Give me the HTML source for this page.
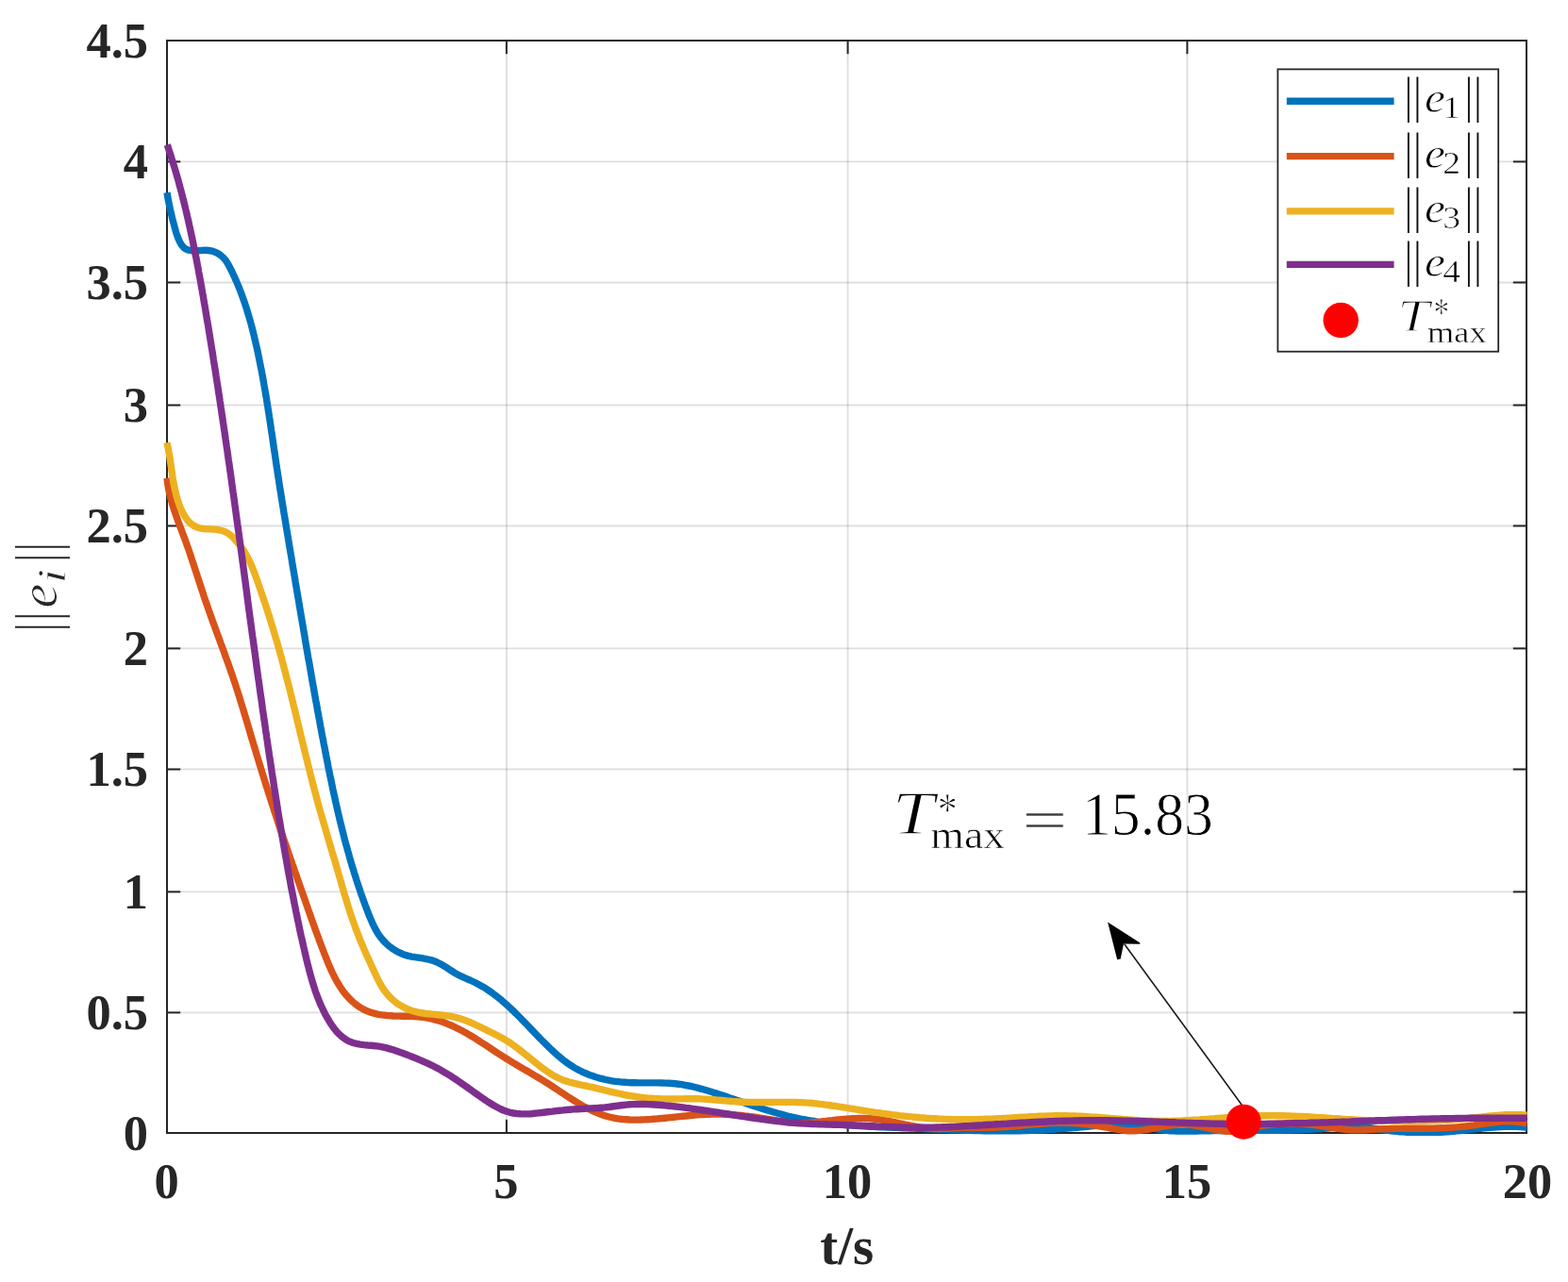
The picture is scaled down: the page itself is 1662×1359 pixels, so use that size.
<!DOCTYPE html>
<html lang="en"><head><meta charset="utf-8"><title>Tracking error norms</title>
<style>
html,body{margin:0;padding:0;background:#fff;}
body{width:1662px;height:1359px;overflow:hidden;}
svg{display:block;}
.tk{font-family:"Liberation Serif","DejaVu Serif",serif;font-weight:bold;font-size:52.5px;fill:#262626;}
.lb{font-family:"Liberation Serif","DejaVu Serif",serif;font-weight:bold;font-size:57px;fill:#262626;}
.mi{font-family:"Liberation Serif","DejaVu Serif",serif;font-style:italic;}
.mr{font-family:"Liberation Serif","DejaVu Serif",serif;}
</style></head><body>
<svg width="1662" height="1359" viewBox="0 0 1662 1359">
<rect x="0" y="0" width="1662" height="1359" fill="#ffffff"/>
<defs><clipPath id="ax"><rect x="170" y="40" width="1449.2" height="1164"/></clipPath></defs>
<g stroke="#262626" stroke-opacity="0.15" stroke-width="1.85" fill="none">
<line x1="536.9" y1="43.0" x2="536.9" y2="1201.0"/>
<line x1="898.6" y1="43.0" x2="898.6" y2="1201.0"/>
<line x1="1258.4" y1="43.0" x2="1258.4" y2="1201.0"/>
<line x1="177.0" y1="1073.40" x2="1618.0" y2="1073.40"/>
<line x1="177.0" y1="945.40" x2="1618.0" y2="945.40"/>
<line x1="177.0" y1="815.50" x2="1618.0" y2="815.50"/>
<line x1="177.0" y1="687.40" x2="1618.0" y2="687.40"/>
<line x1="177.0" y1="557.45" x2="1618.0" y2="557.45"/>
<line x1="177.0" y1="429.50" x2="1618.0" y2="429.50"/>
<line x1="177.0" y1="299.45" x2="1618.0" y2="299.45"/>
<line x1="177.0" y1="171.40" x2="1618.0" y2="171.40"/>
</g>
<g stroke="#262626" stroke-width="2" fill="none">
<rect x="177.0" y="43.0" width="1441.0" height="1158.0"/>
<line x1="536.9" y1="1201.0" x2="536.9" y2="1186.8"/>
<line x1="536.9" y1="43.0" x2="536.9" y2="57.2"/>
<line x1="898.6" y1="1201.0" x2="898.6" y2="1186.8"/>
<line x1="898.6" y1="43.0" x2="898.6" y2="57.2"/>
<line x1="1258.4" y1="1201.0" x2="1258.4" y2="1186.8"/>
<line x1="1258.4" y1="43.0" x2="1258.4" y2="57.2"/>
<line x1="177.0" y1="1073.40" x2="191.2" y2="1073.40"/>
<line x1="1618.0" y1="1073.40" x2="1603.8" y2="1073.40"/>
<line x1="177.0" y1="945.40" x2="191.2" y2="945.40"/>
<line x1="1618.0" y1="945.40" x2="1603.8" y2="945.40"/>
<line x1="177.0" y1="815.50" x2="191.2" y2="815.50"/>
<line x1="1618.0" y1="815.50" x2="1603.8" y2="815.50"/>
<line x1="177.0" y1="687.40" x2="191.2" y2="687.40"/>
<line x1="1618.0" y1="687.40" x2="1603.8" y2="687.40"/>
<line x1="177.0" y1="557.45" x2="191.2" y2="557.45"/>
<line x1="1618.0" y1="557.45" x2="1603.8" y2="557.45"/>
<line x1="177.0" y1="429.50" x2="191.2" y2="429.50"/>
<line x1="1618.0" y1="429.50" x2="1603.8" y2="429.50"/>
<line x1="177.0" y1="299.45" x2="191.2" y2="299.45"/>
<line x1="1618.0" y1="299.45" x2="1603.8" y2="299.45"/>
<line x1="177.0" y1="171.40" x2="191.2" y2="171.40"/>
<line x1="1618.0" y1="171.40" x2="1603.8" y2="171.40"/>
</g>
<g fill="none" stroke-width="7.4" stroke-linejoin="round" stroke-linecap="butt" clip-path="url(#ax)">
<path stroke="#0072BD" d="M177.0,204.2 L177.7,208.1 L178.3,211.8 L179.0,215.3 L179.7,218.6 L180.4,221.9 L181.1,225.0 L181.9,228.2 L182.6,231.4 L183.5,234.7 L184.4,238.1 L185.4,241.7 L186.4,245.5 L187.6,249.3 L189.0,253.0 L190.6,256.5 L192.4,259.6 L194.6,262.2 L197.1,264.1 L200.1,265.2 L203.3,265.7 L206.8,265.8 L210.4,265.7 L214.1,265.4 L217.7,265.3 L221.3,265.5 L224.7,266.1 L227.9,267.2 L231.0,268.6 L233.7,270.5 L236.3,272.7 L238.6,275.2 L240.6,278.1 L242.4,281.2 L244.1,284.4 L245.8,287.7 L247.3,291.0 L248.8,294.3 L250.3,297.6 L251.7,300.9 L253.1,304.2 L254.4,307.5 L255.7,310.9 L256.9,314.2 L258.1,317.6 L259.3,320.9 L260.4,324.3 L261.5,327.7 L262.5,331.1 L263.5,334.4 L264.5,337.8 L265.5,341.2 L266.4,344.6 L267.3,348.0 L268.2,351.5 L269.0,354.9 L269.8,358.3 L270.6,361.7 L271.4,365.2 L272.2,368.6 L273.0,372.1 L273.7,375.5 L274.4,379.0 L275.1,382.4 L275.8,385.9 L276.5,389.4 L277.2,392.8 L277.8,396.3 L278.5,399.8 L279.1,403.3 L279.7,406.8 L280.3,410.3 L280.9,413.7 L281.5,417.2 L282.1,420.7 L282.7,424.2 L283.2,427.7 L283.8,431.2 L284.3,434.7 L284.9,438.3 L285.4,441.8 L286.0,445.3 L286.5,448.8 L287.0,452.3 L287.5,455.8 L288.1,459.3 L288.6,462.8 L289.1,466.3 L289.6,469.9 L290.1,473.4 L290.6,476.9 L291.2,480.4 L291.7,483.9 L292.2,487.4 L292.7,490.9 L293.2,494.4 L293.8,498.0 L294.3,501.5 L294.8,505.0 L295.4,508.5 L295.9,512.0 L296.4,515.5 L297.0,519.0 L297.6,522.5 L298.1,526.0 L298.7,529.5 L299.2,533.0 L299.8,536.5 L300.4,540.0 L300.9,543.4 L301.5,546.9 L302.1,550.4 L302.7,553.9 L303.2,557.4 L303.8,560.9 L304.4,564.4 L305.0,567.9 L305.6,571.4 L306.1,574.9 L306.7,578.4 L307.3,581.9 L307.9,585.3 L308.5,588.8 L309.1,592.3 L309.6,595.8 L310.2,599.3 L310.8,602.8 L311.4,606.3 L312.0,609.8 L312.6,613.3 L313.1,616.8 L313.7,620.3 L314.3,623.8 L314.9,627.3 L315.5,630.8 L316.1,634.3 L316.7,637.8 L317.2,641.2 L317.8,644.7 L318.4,648.2 L319.0,651.7 L319.6,655.2 L320.2,658.7 L320.8,662.2 L321.4,665.7 L322.0,669.2 L322.6,672.7 L323.2,676.2 L323.7,679.7 L324.3,683.2 L324.9,686.7 L325.5,690.2 L326.1,693.7 L326.7,697.2 L327.4,700.7 L328.0,704.1 L328.6,707.6 L329.2,711.1 L329.8,714.6 L330.4,718.1 L331.0,721.6 L331.6,725.1 L332.3,728.6 L332.9,732.1 L333.5,735.6 L334.1,739.1 L334.7,742.5 L335.4,746.0 L336.0,749.5 L336.6,753.0 L337.3,756.5 L337.9,760.0 L338.6,763.5 L339.2,767.0 L339.8,770.4 L340.5,773.9 L341.1,777.4 L341.8,780.9 L342.5,784.4 L343.1,787.9 L343.8,791.3 L344.5,794.8 L345.1,798.3 L345.8,801.8 L346.5,805.2 L347.2,808.7 L347.8,812.2 L348.5,815.7 L349.2,819.1 L349.9,822.6 L350.7,826.1 L351.4,829.5 L352.1,833.0 L352.8,836.5 L353.6,839.9 L354.3,843.4 L355.1,846.9 L355.8,850.3 L356.6,853.8 L357.4,857.2 L358.2,860.7 L359.0,864.1 L359.8,867.6 L360.6,871.0 L361.5,874.4 L362.3,877.9 L363.2,881.3 L364.1,884.7 L364.9,888.2 L365.8,891.6 L366.7,895.0 L367.7,898.4 L368.6,901.8 L369.6,905.2 L370.5,908.7 L371.5,912.1 L372.5,915.5 L373.5,918.9 L374.6,922.2 L375.6,925.6 L376.7,929.0 L377.7,932.4 L378.8,935.8 L380.0,939.2 L381.1,942.5 L382.2,945.9 L383.4,949.2 L384.6,952.6 L385.8,955.9 L387.0,959.3 L388.3,962.6 L389.6,966.0 L390.8,969.3 L392.2,972.6 L393.6,975.9 L395.0,979.1 L396.5,982.3 L398.2,985.4 L399.9,988.4 L401.8,991.4 L403.9,994.2 L406.1,996.9 L408.5,999.4 L411.1,1001.9 L413.9,1004.1 L416.8,1006.2 L419.8,1008.0 L423.0,1009.7 L426.2,1011.2 L429.6,1012.4 L433.0,1013.4 L436.4,1014.1 L439.9,1014.7 L443.4,1015.2 L447.0,1015.7 L450.5,1016.3 L453.9,1017.0 L457.3,1017.8 L460.7,1019.0 L464.0,1020.4 L467.2,1022.1 L470.3,1023.8 L473.3,1025.7 L476.2,1027.6 L479.2,1029.5 L482.1,1031.4 L485.2,1033.1 L488.3,1034.7 L491.5,1036.2 L494.8,1037.6 L498.1,1039.0 L501.3,1040.5 L504.5,1042.0 L507.6,1043.7 L510.7,1045.4 L513.7,1047.2 L516.7,1049.1 L519.6,1051.1 L522.4,1053.1 L525.2,1055.2 L528.0,1057.4 L530.8,1059.6 L533.4,1061.9 L536.1,1064.2 L538.7,1066.6 L541.3,1069.0 L543.9,1071.5 L546.5,1074.0 L549.0,1076.5 L551.5,1079.0 L554.0,1081.6 L556.5,1084.1 L559.0,1086.7 L561.4,1089.3 L563.9,1091.9 L566.4,1094.5 L568.8,1097.0 L571.3,1099.6 L573.8,1102.2 L576.3,1104.7 L578.8,1107.2 L581.3,1109.7 L583.9,1112.1 L586.4,1114.5 L589.0,1116.9 L591.6,1119.2 L594.3,1121.4 L597.0,1123.6 L599.8,1125.7 L602.6,1127.8 L605.5,1129.7 L608.5,1131.6 L611.6,1133.4 L614.8,1135.0 L618.0,1136.6 L621.3,1138.0 L624.7,1139.4 L628.1,1140.6 L631.5,1141.8 L634.9,1142.8 L638.4,1143.7 L641.8,1144.5 L645.2,1145.2 L648.7,1145.8 L652.2,1146.3 L655.6,1146.7 L659.1,1147.1 L662.6,1147.3 L666.1,1147.6 L669.6,1147.7 L673.1,1147.8 L676.7,1147.9 L680.2,1147.9 L683.8,1147.9 L687.3,1147.9 L690.9,1147.9 L694.5,1147.9 L698.1,1147.9 L701.6,1148.0 L705.2,1148.1 L708.8,1148.3 L712.3,1148.5 L715.8,1148.8 L719.3,1149.2 L722.8,1149.7 L726.3,1150.3 L729.8,1151.0 L733.2,1151.7 L736.6,1152.5 L740.0,1153.4 L743.4,1154.3 L746.8,1155.3 L750.2,1156.3 L753.6,1157.3 L757.0,1158.4 L760.4,1159.4 L763.7,1160.5 L767.1,1161.6 L770.5,1162.8 L773.8,1163.9 L777.2,1165.0 L780.6,1166.2 L783.9,1167.3 L787.3,1168.5 L790.7,1169.6 L794.1,1170.8 L797.4,1171.9 L800.8,1173.0 L804.2,1174.1 L807.6,1175.2 L811.0,1176.3 L814.3,1177.3 L817.7,1178.3 L821.1,1179.3 L824.6,1180.3 L828.0,1181.2 L831.4,1182.1 L834.8,1183.0 L838.2,1183.8 L841.7,1184.6 L845.1,1185.4 L848.6,1186.1 L852.1,1186.7 L855.5,1187.4 L859.0,1188.0 L862.5,1188.5 L866.0,1189.1 L869.5,1189.6 L873.0,1190.0 L876.5,1190.5 L880.0,1190.9 L883.5,1191.3 L887.0,1191.6 L890.6,1192.0 L894.1,1192.3 L897.6,1192.6 L901.1,1192.9 L904.7,1193.1 L908.2,1193.4 L911.8,1193.6 L915.3,1193.8 L918.9,1194.0 L922.4,1194.2 L926.0,1194.4 L929.5,1194.5 L933.1,1194.7 L936.6,1194.9 L940.2,1195.0 L943.7,1195.1 L947.3,1195.3 L950.8,1195.4 L954.4,1195.6 L957.9,1195.7 L961.5,1195.8 L965.0,1196.0 L968.6,1196.1 L972.1,1196.3 L975.7,1196.4 L979.2,1196.6 L982.7,1196.7 L986.3,1196.9 L989.8,1197.0 L993.4,1197.1 L996.9,1197.3 L1000.4,1197.4 L1004.0,1197.6 L1007.5,1197.7 L1011.1,1197.8 L1014.6,1197.9 L1018.1,1198.1 L1021.7,1198.2 L1025.2,1198.3 L1028.7,1198.4 L1032.3,1198.5 L1035.8,1198.6 L1039.3,1198.6 L1042.9,1198.7 L1046.4,1198.8 L1049.9,1198.8 L1053.5,1198.8 L1057.0,1198.9 L1060.5,1198.9 L1064.1,1198.9 L1067.6,1198.9 L1071.1,1198.8 L1074.7,1198.8 L1078.2,1198.8 L1081.7,1198.7 L1085.3,1198.6 L1088.8,1198.5 L1092.3,1198.4 L1095.9,1198.3 L1099.4,1198.1 L1103.0,1198.0 L1106.5,1197.8 L1110.0,1197.6 L1113.6,1197.4 L1117.1,1197.2 L1120.7,1196.9 L1124.2,1196.7 L1127.8,1196.4 L1131.3,1196.1 L1134.9,1195.8 L1138.4,1195.5 L1141.9,1195.2 L1145.5,1194.9 L1149.0,1194.5 L1152.6,1194.2 L1156.1,1193.8 L1159.7,1193.5 L1163.2,1193.1 L1166.7,1192.8 L1170.3,1192.4 L1173.8,1192.2 L1177.3,1191.9 L1180.9,1191.7 L1184.4,1191.5 L1187.9,1191.5 L1191.4,1191.5 L1194.9,1191.6 L1198.4,1191.8 L1201.9,1192.1 L1205.4,1192.5 L1208.9,1193.1 L1212.3,1193.8 L1215.8,1194.6 L1219.2,1195.4 L1222.7,1196.2 L1226.2,1196.9 L1229.7,1197.5 L1233.2,1198.0 L1236.7,1198.4 L1240.2,1198.7 L1243.8,1198.9 L1247.3,1199.0 L1250.9,1199.1 L1254.4,1199.1 L1257.9,1199.1 L1261.5,1199.1 L1265.0,1199.1 L1268.6,1199.0 L1272.1,1198.9 L1275.7,1198.8 L1279.2,1198.8 L1282.7,1198.7 L1286.3,1198.6 L1289.8,1198.6 L1293.4,1198.5 L1296.9,1198.5 L1300.5,1198.5 L1304.0,1198.4 L1307.5,1198.4 L1311.1,1198.4 L1314.6,1198.4 L1318.2,1198.4 L1321.7,1198.4 L1325.3,1198.4 L1328.8,1198.3 L1332.3,1198.3 L1335.9,1198.3 L1339.4,1198.3 L1343.0,1198.3 L1346.5,1198.3 L1350.0,1198.2 L1353.6,1198.2 L1357.1,1198.2 L1360.7,1198.1 L1364.2,1198.0 L1367.7,1198.0 L1371.3,1197.9 L1374.8,1197.8 L1378.4,1197.7 L1381.9,1197.6 L1385.5,1197.4 L1389.0,1197.3 L1392.5,1197.1 L1396.1,1196.9 L1399.6,1196.7 L1403.2,1196.4 L1406.7,1196.1 L1410.2,1195.7 L1413.8,1195.3 L1417.3,1194.9 L1420.8,1194.5 L1424.4,1194.1 L1427.9,1193.8 L1431.4,1193.7 L1434.9,1193.7 L1438.4,1193.8 L1441.9,1194.1 L1445.4,1194.5 L1449.0,1195.0 L1452.5,1195.6 L1456.0,1196.2 L1459.5,1196.7 L1463.0,1197.3 L1466.5,1197.8 L1470.0,1198.2 L1473.6,1198.7 L1477.1,1199.0 L1480.6,1199.4 L1484.2,1199.7 L1487.7,1199.9 L1491.2,1200.2 L1494.8,1200.3 L1498.3,1200.5 L1501.8,1200.6 L1505.4,1200.6 L1508.9,1200.7 L1512.5,1200.6 L1516.0,1200.6 L1519.6,1200.5 L1523.1,1200.4 L1526.6,1200.2 L1530.2,1200.0 L1533.7,1199.8 L1537.2,1199.5 L1540.8,1199.2 L1544.3,1198.9 L1547.8,1198.5 L1551.3,1198.2 L1554.9,1197.8 L1558.4,1197.4 L1561.9,1197.0 L1565.4,1196.6 L1569.0,1196.2 L1572.5,1195.9 L1576.0,1195.6 L1579.5,1195.3 L1583.1,1195.0 L1586.6,1194.7 L1590.1,1194.6 L1593.7,1194.4 L1597.2,1194.3 L1600.7,1194.3 L1604.3,1194.3 L1607.8,1194.4 L1611.4,1194.6 L1614.9,1194.9 L1618.5,1195.2"/>
<path stroke="#D95319" d="M177.0,506.7 L177.4,509.8 L177.8,513.0 L178.3,516.1 L178.8,519.2 L179.5,522.2 L180.2,525.3 L180.9,528.3 L181.8,531.3 L182.6,534.3 L183.5,537.3 L184.5,540.3 L185.5,543.2 L186.5,546.2 L187.6,549.1 L188.6,552.0 L189.7,555.0 L190.8,557.9 L191.9,560.8 L193.0,563.8 L194.1,566.7 L195.2,569.6 L196.3,572.6 L197.4,575.5 L198.4,578.5 L199.5,581.4 L200.5,584.4 L201.5,587.3 L202.5,590.3 L203.5,593.3 L204.5,596.2 L205.5,599.2 L206.4,602.2 L207.4,605.1 L208.4,608.1 L209.3,611.1 L210.3,614.1 L211.3,617.0 L212.2,620.0 L213.2,623.0 L214.2,626.0 L215.2,628.9 L216.1,631.9 L217.1,634.9 L218.1,637.8 L219.2,640.8 L220.2,643.7 L221.2,646.7 L222.3,649.6 L223.3,652.6 L224.4,655.5 L225.4,658.5 L226.5,661.4 L227.6,664.3 L228.6,667.3 L229.7,670.2 L230.8,673.2 L231.9,676.1 L233.0,679.0 L234.0,682.0 L235.1,684.9 L236.2,687.8 L237.3,690.8 L238.3,693.7 L239.4,696.7 L240.5,699.6 L241.5,702.5 L242.6,705.5 L243.6,708.4 L244.6,711.4 L245.7,714.3 L246.7,717.3 L247.7,720.3 L248.7,723.2 L249.7,726.2 L250.6,729.2 L251.6,732.2 L252.5,735.1 L253.5,738.1 L254.4,741.1 L255.3,744.1 L256.3,747.1 L257.2,750.1 L258.1,753.1 L259.0,756.1 L259.9,759.1 L260.8,762.1 L261.7,765.1 L262.6,768.1 L263.5,771.1 L264.4,774.1 L265.2,777.1 L266.1,780.1 L267.0,783.1 L267.9,786.1 L268.8,789.1 L269.7,792.1 L270.6,795.0 L271.5,798.0 L272.4,801.0 L273.3,804.0 L274.2,807.0 L275.1,810.0 L276.1,813.0 L277.0,816.0 L277.9,819.0 L278.8,821.9 L279.7,824.9 L280.7,827.9 L281.6,830.9 L282.5,833.9 L283.5,836.9 L284.4,839.8 L285.4,842.8 L286.3,845.8 L287.3,848.8 L288.2,851.7 L289.2,854.7 L290.2,857.7 L291.1,860.7 L292.1,863.6 L293.1,866.6 L294.1,869.6 L295.0,872.5 L296.0,875.5 L297.0,878.5 L298.0,881.5 L299.0,884.4 L300.0,887.4 L301.0,890.3 L302.0,893.3 L303.1,896.3 L304.1,899.2 L305.1,902.2 L306.1,905.2 L307.2,908.1 L308.2,911.1 L309.2,914.0 L310.2,917.0 L311.3,920.0 L312.3,922.9 L313.3,925.9 L314.4,928.8 L315.4,931.8 L316.4,934.7 L317.5,937.7 L318.5,940.6 L319.5,943.6 L320.6,946.5 L321.6,949.5 L322.6,952.4 L323.7,955.3 L324.7,958.3 L325.7,961.2 L326.7,964.2 L327.8,967.1 L328.8,970.0 L329.8,973.0 L330.9,975.9 L331.9,978.9 L333.0,981.8 L334.0,984.7 L335.1,987.7 L336.2,990.6 L337.3,993.5 L338.3,996.5 L339.4,999.4 L340.5,1002.3 L341.7,1005.3 L342.8,1008.2 L343.9,1011.2 L345.1,1014.1 L346.2,1017.0 L347.4,1019.9 L348.6,1022.9 L349.9,1025.8 L351.1,1028.6 L352.5,1031.5 L353.9,1034.3 L355.3,1037.1 L356.8,1039.8 L358.4,1042.5 L360.0,1045.2 L361.7,1047.8 L363.5,1050.4 L365.4,1052.9 L367.4,1055.3 L369.5,1057.6 L371.7,1059.9 L373.9,1062.0 L376.3,1064.0 L378.7,1065.9 L381.3,1067.6 L383.9,1069.2 L386.6,1070.6 L389.5,1071.9 L392.4,1073.0 L395.3,1073.9 L398.3,1074.7 L401.4,1075.3 L404.5,1075.8 L407.6,1076.2 L410.7,1076.6 L413.8,1076.8 L417.0,1077.0 L420.2,1077.1 L423.3,1077.1 L426.5,1077.2 L429.7,1077.3 L432.9,1077.3 L436.1,1077.4 L439.2,1077.6 L442.4,1077.8 L445.5,1078.0 L448.6,1078.4 L451.7,1078.8 L454.8,1079.4 L457.8,1080.0 L460.8,1080.8 L463.8,1081.6 L466.7,1082.5 L469.7,1083.5 L472.6,1084.6 L475.5,1085.8 L478.3,1087.0 L481.2,1088.3 L484.0,1089.7 L486.8,1091.1 L489.6,1092.5 L492.3,1094.1 L495.1,1095.6 L497.8,1097.2 L500.5,1098.8 L503.1,1100.4 L505.8,1102.1 L508.4,1103.8 L511.0,1105.5 L513.7,1107.2 L516.3,1108.9 L518.9,1110.6 L521.5,1112.4 L524.1,1114.1 L526.7,1115.8 L529.3,1117.5 L531.9,1119.2 L534.6,1120.9 L537.2,1122.5 L539.9,1124.1 L542.6,1125.8 L545.2,1127.4 L547.9,1129.0 L550.6,1130.6 L553.3,1132.2 L556.0,1133.7 L558.7,1135.3 L561.4,1136.9 L564.1,1138.5 L566.8,1140.1 L569.5,1141.7 L572.2,1143.3 L574.8,1144.9 L577.5,1146.6 L580.2,1148.2 L582.8,1149.9 L585.4,1151.6 L588.0,1153.3 L590.6,1155.0 L593.2,1156.8 L595.8,1158.5 L598.4,1160.2 L601.0,1162.0 L603.6,1163.7 L606.3,1165.4 L608.9,1167.0 L611.6,1168.7 L614.3,1170.3 L617.0,1171.9 L619.8,1173.4 L622.6,1174.8 L625.4,1176.2 L628.2,1177.6 L631.1,1178.9 L634.0,1180.1 L636.9,1181.2 L639.8,1182.2 L642.8,1183.2 L645.8,1184.0 L648.8,1184.7 L651.9,1185.3 L654.9,1185.9 L658.0,1186.3 L661.1,1186.6 L664.2,1186.8 L667.4,1187.0 L670.5,1187.1 L673.6,1187.1 L676.8,1187.1 L679.9,1187.0 L683.0,1186.9 L686.2,1186.7 L689.3,1186.6 L692.4,1186.3 L695.5,1186.1 L698.7,1185.8 L701.8,1185.5 L704.9,1185.2 L708.0,1184.9 L711.1,1184.6 L714.2,1184.3 L717.4,1183.9 L720.5,1183.6 L723.6,1183.3 L726.7,1183.0 L729.8,1182.7 L732.9,1182.4 L736.0,1182.1 L739.1,1181.9 L742.3,1181.6 L745.4,1181.5 L748.5,1181.3 L751.6,1181.2 L754.7,1181.1 L757.9,1181.1 L761.0,1181.1 L764.1,1181.1 L767.2,1181.2 L770.3,1181.3 L773.5,1181.5 L776.6,1181.7 L779.7,1182.0 L782.8,1182.2 L786.0,1182.5 L789.1,1182.9 L792.2,1183.2 L795.3,1183.6 L798.4,1184.0 L801.5,1184.4 L804.6,1184.9 L807.8,1185.3 L810.9,1185.8 L814.0,1186.3 L817.0,1186.8 L820.1,1187.3 L823.2,1187.8 L826.3,1188.3 L829.4,1188.8 L832.4,1189.3 L835.5,1189.7 L838.6,1190.1 L841.7,1190.4 L844.7,1190.6 L847.8,1190.6 L850.9,1190.6 L854.0,1190.5 L857.1,1190.3 L860.1,1190.0 L863.2,1189.7 L866.3,1189.4 L869.4,1189.1 L872.6,1188.7 L875.7,1188.4 L878.8,1188.0 L881.9,1187.7 L885.0,1187.3 L888.1,1187.0 L891.3,1186.7 L894.4,1186.4 L897.5,1186.1 L900.6,1185.9 L903.8,1185.7 L906.9,1185.6 L910.0,1185.5 L913.1,1185.4 L916.2,1185.5 L919.3,1185.6 L922.5,1185.7 L925.6,1186.0 L928.7,1186.3 L931.8,1186.7 L934.8,1187.1 L937.9,1187.7 L941.0,1188.2 L944.1,1188.8 L947.2,1189.5 L950.3,1190.1 L953.4,1190.8 L956.4,1191.4 L959.5,1192.1 L962.6,1192.7 L965.7,1193.3 L968.8,1193.9 L971.9,1194.5 L975.0,1195.0 L978.0,1195.4 L981.1,1195.8 L984.2,1196.1 L987.4,1196.4 L990.5,1196.5 L993.6,1196.5 L996.7,1196.5 L999.8,1196.4 L1003.0,1196.2 L1006.1,1196.1 L1009.2,1195.9 L1012.3,1195.7 L1015.5,1195.5 L1018.6,1195.3 L1021.7,1195.2 L1024.9,1195.2 L1028.0,1195.2 L1031.1,1195.2 L1034.2,1195.2 L1037.4,1195.2 L1040.5,1195.3 L1043.6,1195.3 L1046.7,1195.3 L1049.8,1195.3 L1053.0,1195.2 L1056.1,1195.1 L1059.2,1194.9 L1062.3,1194.8 L1065.5,1194.6 L1068.6,1194.3 L1071.7,1194.1 L1074.9,1193.8 L1078.0,1193.5 L1081.1,1193.2 L1084.3,1192.9 L1087.4,1192.6 L1090.5,1192.3 L1093.6,1192.0 L1096.8,1191.7 L1099.9,1191.4 L1103.0,1191.2 L1106.1,1190.9 L1109.3,1190.7 L1112.4,1190.5 L1115.5,1190.4 L1118.6,1190.2 L1121.7,1190.2 L1124.9,1190.1 L1128.0,1190.1 L1131.1,1190.2 L1134.2,1190.3 L1137.3,1190.5 L1140.4,1190.7 L1143.5,1190.9 L1146.6,1191.2 L1149.7,1191.6 L1152.8,1191.9 L1155.9,1192.4 L1159.0,1192.8 L1162.1,1193.3 L1165.1,1193.8 L1168.2,1194.3 L1171.3,1194.9 L1174.4,1195.4 L1177.5,1196.0 L1180.5,1196.6 L1183.6,1197.2 L1186.7,1197.7 L1189.7,1198.1 L1192.8,1198.5 L1195.9,1198.7 L1199.0,1198.8 L1202.1,1198.7 L1205.2,1198.5 L1208.3,1198.2 L1211.4,1197.9 L1214.5,1197.5 L1217.6,1197.0 L1220.7,1196.4 L1223.8,1195.9 L1226.9,1195.3 L1230.0,1194.7 L1233.2,1194.2 L1236.3,1193.6 L1239.4,1193.1 L1242.5,1192.7 L1245.6,1192.4 L1248.7,1192.1 L1251.8,1192.0 L1254.9,1192.0 L1258.0,1192.1 L1261.1,1192.4 L1264.2,1192.8 L1267.3,1193.2 L1270.4,1193.8 L1273.5,1194.4 L1276.6,1195.0 L1279.7,1195.7 L1282.7,1196.4 L1285.8,1197.1 L1288.9,1197.7 L1291.9,1198.3 L1295.0,1198.7 L1298.0,1199.1 L1301.1,1199.3 L1304.2,1199.2 L1307.2,1199.1 L1310.3,1198.8 L1313.3,1198.4 L1316.4,1197.9 L1319.4,1197.3 L1322.5,1196.7 L1325.6,1196.0 L1328.6,1195.3 L1331.7,1194.7 L1334.8,1194.0 L1337.9,1193.4 L1341.0,1192.9 L1344.1,1192.4 L1347.2,1192.0 L1350.3,1191.7 L1353.4,1191.4 L1356.6,1191.2 L1359.7,1191.1 L1362.8,1191.0 L1366.0,1190.9 L1369.1,1190.9 L1372.2,1191.0 L1375.4,1191.1 L1378.5,1191.3 L1381.6,1191.5 L1384.8,1191.8 L1387.9,1192.1 L1391.0,1192.4 L1394.2,1192.8 L1397.3,1193.2 L1400.4,1193.7 L1403.5,1194.1 L1406.6,1194.6 L1409.7,1195.1 L1412.8,1195.6 L1415.9,1196.1 L1419.0,1196.5 L1422.1,1196.9 L1425.2,1197.2 L1428.3,1197.5 L1431.4,1197.7 L1434.5,1197.9 L1437.6,1197.9 L1440.7,1197.9 L1443.8,1197.8 L1447.0,1197.7 L1450.1,1197.6 L1453.2,1197.4 L1456.3,1197.2 L1459.5,1197.0 L1462.6,1196.9 L1465.7,1196.8 L1468.8,1196.7 L1472.0,1196.6 L1475.1,1196.5 L1478.2,1196.4 L1481.4,1196.4 L1484.5,1196.4 L1487.6,1196.3 L1490.7,1196.3 L1493.9,1196.3 L1497.0,1196.3 L1500.1,1196.3 L1503.2,1196.3 L1506.4,1196.2 L1509.5,1196.2 L1512.6,1196.2 L1515.7,1196.1 L1518.9,1196.1 L1522.0,1196.0 L1525.1,1195.9 L1528.2,1195.8 L1531.3,1195.7 L1534.4,1195.5 L1537.6,1195.4 L1540.7,1195.1 L1543.8,1194.9 L1546.9,1194.6 L1550.0,1194.3 L1553.1,1194.0 L1556.2,1193.6 L1559.3,1193.2 L1562.4,1192.8 L1565.5,1192.3 L1568.6,1191.8 L1571.8,1191.4 L1574.9,1190.9 L1578.0,1190.5 L1581.1,1190.0 L1584.2,1189.7 L1587.3,1189.4 L1590.4,1189.1 L1593.5,1188.9 L1596.6,1188.8 L1599.7,1188.8 L1602.8,1188.8 L1606.0,1189.0 L1609.1,1189.3 L1612.2,1189.7 L1615.4,1190.3 L1618.5,1191.0"/>
<path stroke="#EDB120" d="M176.9,469.2 L177.6,472.3 L178.3,475.4 L178.8,478.4 L179.4,481.5 L179.9,484.6 L180.4,487.8 L180.8,490.9 L181.3,494.0 L181.7,497.1 L182.2,500.3 L182.6,503.4 L183.1,506.5 L183.6,509.7 L184.2,512.8 L184.8,515.9 L185.4,519.0 L186.2,522.1 L186.9,525.2 L187.8,528.3 L188.8,531.4 L189.8,534.5 L191.0,537.5 L192.2,540.5 L193.6,543.4 L195.2,546.2 L196.8,548.8 L198.6,551.2 L200.6,553.4 L202.8,555.4 L205.1,557.1 L207.6,558.4 L210.4,559.5 L213.3,560.1 L216.4,560.5 L219.5,560.8 L222.8,560.9 L226.1,561.1 L229.3,561.3 L232.5,561.8 L235.5,562.5 L238.4,563.6 L241.1,565.0 L243.7,566.8 L246.1,568.8 L248.4,571.0 L250.5,573.5 L252.6,576.0 L254.6,578.5 L256.5,581.2 L258.4,583.8 L260.1,586.5 L261.6,589.2 L263.1,592.0 L264.5,594.8 L265.8,597.7 L267.0,600.6 L268.2,603.5 L269.3,606.4 L270.4,609.3 L271.5,612.2 L272.6,615.2 L273.6,618.2 L274.6,621.1 L275.7,624.1 L276.7,627.1 L277.7,630.0 L278.7,633.0 L279.7,636.0 L280.7,639.0 L281.7,642.0 L282.7,645.0 L283.6,648.0 L284.6,651.0 L285.6,654.0 L286.5,657.1 L287.4,660.1 L288.4,663.1 L289.3,666.1 L290.2,669.2 L291.1,672.2 L292.0,675.2 L292.9,678.3 L293.8,681.3 L294.7,684.4 L295.5,687.4 L296.4,690.4 L297.2,693.5 L298.1,696.5 L298.9,699.6 L299.7,702.6 L300.5,705.7 L301.3,708.8 L302.1,711.8 L302.9,714.9 L303.7,717.9 L304.5,721.0 L305.3,724.0 L306.1,727.1 L306.9,730.2 L307.6,733.2 L308.4,736.3 L309.2,739.4 L309.9,742.4 L310.7,745.5 L311.4,748.6 L312.2,751.6 L312.9,754.7 L313.7,757.8 L314.4,760.8 L315.1,763.9 L315.9,767.0 L316.6,770.0 L317.4,773.1 L318.1,776.2 L318.8,779.2 L319.6,782.3 L320.3,785.4 L321.1,788.4 L321.8,791.5 L322.6,794.6 L323.3,797.6 L324.1,800.7 L324.8,803.8 L325.6,806.8 L326.3,809.9 L327.1,812.9 L327.9,816.0 L328.6,819.1 L329.4,822.1 L330.2,825.2 L331.0,828.2 L331.7,831.3 L332.5,834.3 L333.3,837.4 L334.2,840.4 L335.0,843.5 L335.8,846.5 L336.6,849.6 L337.4,852.6 L338.3,855.7 L339.1,858.7 L340.0,861.7 L340.9,864.8 L341.7,867.8 L342.6,870.9 L343.5,873.9 L344.4,876.9 L345.3,880.0 L346.1,883.0 L347.0,886.0 L347.9,889.0 L348.8,892.1 L349.7,895.1 L350.6,898.1 L351.5,901.2 L352.4,904.2 L353.3,907.2 L354.2,910.3 L355.1,913.3 L356.0,916.3 L356.9,919.4 L357.8,922.4 L358.6,925.4 L359.5,928.5 L360.4,931.5 L361.3,934.5 L362.1,937.6 L363.0,940.6 L363.9,943.6 L364.8,946.7 L365.7,949.7 L366.6,952.7 L367.5,955.7 L368.5,958.8 L369.4,961.8 L370.4,964.8 L371.3,967.8 L372.3,970.8 L373.3,973.7 L374.4,976.7 L375.4,979.7 L376.5,982.7 L377.6,985.6 L378.7,988.6 L379.8,991.5 L381.0,994.4 L382.1,997.4 L383.4,1000.3 L384.6,1003.2 L385.8,1006.1 L387.1,1009.0 L388.4,1011.9 L389.7,1014.7 L391.0,1017.6 L392.3,1020.5 L393.6,1023.4 L395.0,1026.3 L396.3,1029.1 L397.6,1032.0 L399.0,1034.9 L400.4,1037.8 L401.8,1040.6 L403.3,1043.4 L404.9,1046.1 L406.6,1048.8 L408.4,1051.3 L410.4,1053.8 L412.5,1056.2 L414.7,1058.4 L417.1,1060.5 L419.5,1062.5 L422.1,1064.4 L424.8,1066.1 L427.5,1067.6 L430.3,1069.0 L433.2,1070.2 L436.2,1071.3 L439.2,1072.2 L442.2,1072.9 L445.3,1073.5 L448.4,1074.0 L451.5,1074.5 L454.7,1074.8 L457.9,1075.1 L461.1,1075.4 L464.2,1075.7 L467.4,1076.0 L470.6,1076.4 L473.8,1076.8 L476.9,1077.2 L480.0,1077.8 L483.1,1078.5 L486.1,1079.3 L489.1,1080.2 L492.0,1081.2 L495.0,1082.3 L497.9,1083.5 L500.8,1084.8 L503.6,1086.1 L506.5,1087.5 L509.4,1088.9 L512.2,1090.3 L515.1,1091.7 L517.9,1093.1 L520.8,1094.5 L523.6,1095.9 L526.4,1097.3 L529.2,1098.7 L532.0,1100.2 L534.7,1101.8 L537.4,1103.4 L540.1,1105.2 L542.7,1106.9 L545.2,1108.8 L547.8,1110.6 L550.3,1112.5 L552.8,1114.5 L555.2,1116.5 L557.7,1118.4 L560.1,1120.4 L562.6,1122.4 L565.1,1124.4 L567.5,1126.4 L570.0,1128.4 L572.5,1130.3 L575.0,1132.3 L577.6,1134.1 L580.2,1136.0 L582.8,1137.7 L585.4,1139.4 L588.2,1141.0 L590.9,1142.4 L593.8,1143.7 L596.7,1144.9 L599.6,1145.9 L602.6,1146.8 L605.7,1147.7 L608.7,1148.4 L611.8,1149.1 L614.9,1149.8 L618.0,1150.5 L621.2,1151.1 L624.3,1151.8 L627.4,1152.4 L630.4,1153.1 L633.5,1153.9 L636.6,1154.6 L639.7,1155.4 L642.7,1156.1 L645.8,1156.9 L648.8,1157.6 L651.9,1158.3 L655.0,1159.0 L658.0,1159.7 L661.1,1160.4 L664.2,1161.0 L667.3,1161.5 L670.4,1162.0 L673.6,1162.5 L676.7,1162.9 L679.8,1163.3 L683.0,1163.7 L686.1,1164.0 L689.3,1164.2 L692.4,1164.5 L695.6,1164.7 L698.8,1164.8 L701.9,1164.9 L705.1,1165.0 L708.2,1165.0 L711.4,1165.0 L714.6,1165.0 L717.7,1164.9 L720.9,1164.9 L724.0,1164.9 L727.2,1164.8 L730.3,1164.8 L733.5,1164.8 L736.6,1164.8 L739.8,1164.8 L742.9,1164.9 L746.1,1165.1 L749.2,1165.2 L752.4,1165.5 L755.5,1165.7 L758.7,1166.0 L761.8,1166.2 L765.0,1166.5 L768.1,1166.8 L771.3,1167.1 L774.4,1167.3 L777.6,1167.6 L780.7,1167.8 L783.9,1168.0 L787.0,1168.2 L790.2,1168.3 L793.3,1168.4 L796.5,1168.5 L799.6,1168.5 L802.8,1168.5 L806.0,1168.5 L809.1,1168.5 L812.3,1168.5 L815.4,1168.5 L818.6,1168.5 L821.7,1168.4 L824.9,1168.4 L828.1,1168.4 L831.2,1168.4 L834.4,1168.4 L837.5,1168.4 L840.7,1168.4 L843.8,1168.5 L847.0,1168.6 L850.1,1168.7 L853.3,1168.9 L856.4,1169.1 L859.5,1169.3 L862.7,1169.6 L865.8,1169.9 L868.9,1170.3 L872.1,1170.7 L875.2,1171.1 L878.3,1171.5 L881.4,1172.0 L884.6,1172.4 L887.7,1172.9 L890.8,1173.4 L893.9,1173.9 L897.1,1174.4 L900.2,1174.9 L903.3,1175.4 L906.4,1175.9 L909.6,1176.4 L912.7,1176.9 L915.8,1177.4 L918.9,1177.9 L922.1,1178.3 L925.2,1178.8 L928.3,1179.3 L931.5,1179.7 L934.6,1180.2 L937.7,1180.6 L940.9,1181.0 L944.0,1181.4 L947.1,1181.8 L950.3,1182.2 L953.4,1182.6 L956.5,1182.9 L959.7,1183.3 L962.8,1183.6 L965.9,1183.9 L969.1,1184.2 L972.2,1184.5 L975.4,1184.8 L978.5,1185.0 L981.7,1185.3 L984.8,1185.5 L988.0,1185.7 L991.1,1185.8 L994.3,1186.0 L997.4,1186.1 L1000.6,1186.3 L1003.7,1186.4 L1006.9,1186.5 L1010.0,1186.6 L1013.2,1186.6 L1016.3,1186.7 L1019.5,1186.7 L1022.6,1186.7 L1025.8,1186.7 L1028.9,1186.7 L1032.1,1186.6 L1035.2,1186.6 L1038.4,1186.5 L1041.5,1186.4 L1044.7,1186.3 L1047.8,1186.2 L1051.0,1186.1 L1054.1,1185.9 L1057.3,1185.8 L1060.5,1185.6 L1063.6,1185.4 L1066.8,1185.3 L1069.9,1185.1 L1073.1,1184.9 L1076.2,1184.7 L1079.4,1184.5 L1082.5,1184.3 L1085.7,1184.1 L1088.8,1184.0 L1092.0,1183.8 L1095.1,1183.6 L1098.3,1183.5 L1101.4,1183.3 L1104.6,1183.2 L1107.7,1183.1 L1110.9,1183.0 L1114.0,1182.9 L1117.2,1182.8 L1120.3,1182.8 L1123.5,1182.8 L1126.7,1182.8 L1129.8,1182.8 L1133.0,1182.9 L1136.1,1182.9 L1139.3,1183.0 L1142.4,1183.2 L1145.6,1183.3 L1148.7,1183.5 L1151.9,1183.7 L1155.0,1183.9 L1158.2,1184.1 L1161.4,1184.3 L1164.5,1184.5 L1167.7,1184.8 L1170.8,1185.0 L1174.0,1185.2 L1177.1,1185.5 L1180.3,1185.7 L1183.4,1186.0 L1186.6,1186.2 L1189.8,1186.5 L1192.9,1186.7 L1196.1,1187.0 L1199.2,1187.2 L1202.4,1187.4 L1205.5,1187.6 L1208.7,1187.8 L1211.8,1187.9 L1215.0,1188.1 L1218.2,1188.2 L1221.3,1188.3 L1224.5,1188.4 L1227.6,1188.4 L1230.8,1188.5 L1233.9,1188.5 L1237.1,1188.5 L1240.2,1188.4 L1243.4,1188.3 L1246.5,1188.2 L1249.7,1188.1 L1252.9,1188.0 L1256.0,1187.8 L1259.2,1187.7 L1262.3,1187.5 L1265.5,1187.3 L1268.6,1187.1 L1271.8,1186.9 L1274.9,1186.6 L1278.1,1186.4 L1281.2,1186.2 L1284.4,1185.9 L1287.5,1185.7 L1290.7,1185.4 L1293.8,1185.2 L1297.0,1185.0 L1300.1,1184.7 L1303.3,1184.5 L1306.4,1184.3 L1309.6,1184.1 L1312.7,1183.8 L1315.9,1183.7 L1319.0,1183.5 L1322.2,1183.3 L1325.3,1183.1 L1328.5,1183.0 L1331.6,1182.9 L1334.8,1182.8 L1337.9,1182.7 L1341.1,1182.7 L1344.3,1182.6 L1347.4,1182.6 L1350.6,1182.6 L1353.7,1182.7 L1356.9,1182.7 L1360.0,1182.8 L1363.2,1182.9 L1366.3,1183.0 L1369.5,1183.1 L1372.6,1183.2 L1375.8,1183.4 L1378.9,1183.5 L1382.1,1183.7 L1385.2,1183.8 L1388.4,1184.0 L1391.5,1184.2 L1394.7,1184.4 L1397.8,1184.6 L1401.0,1184.8 L1404.1,1185.0 L1407.3,1185.2 L1410.4,1185.4 L1413.6,1185.6 L1416.8,1185.8 L1419.9,1186.0 L1423.1,1186.3 L1426.2,1186.5 L1429.4,1186.6 L1432.5,1186.8 L1435.7,1187.0 L1438.8,1187.2 L1442.0,1187.4 L1445.1,1187.5 L1448.3,1187.7 L1451.5,1187.8 L1454.6,1187.9 L1457.8,1188.0 L1460.9,1188.1 L1464.1,1188.2 L1467.2,1188.3 L1470.4,1188.4 L1473.6,1188.4 L1476.7,1188.5 L1479.9,1188.5 L1483.0,1188.6 L1486.2,1188.6 L1489.3,1188.6 L1492.5,1188.6 L1495.6,1188.5 L1498.8,1188.5 L1501.9,1188.5 L1505.1,1188.4 L1508.3,1188.3 L1511.4,1188.2 L1514.6,1188.1 L1517.7,1188.0 L1520.9,1187.9 L1524.0,1187.8 L1527.2,1187.6 L1530.3,1187.4 L1533.5,1187.3 L1536.6,1187.1 L1539.8,1186.9 L1542.9,1186.6 L1546.1,1186.4 L1549.2,1186.1 L1552.4,1185.9 L1555.5,1185.6 L1558.6,1185.3 L1561.8,1185.0 L1564.9,1184.7 L1568.1,1184.3 L1571.2,1184.0 L1574.3,1183.6 L1577.5,1183.3 L1580.6,1183.0 L1583.8,1182.7 L1586.9,1182.4 L1590.1,1182.1 L1593.2,1181.9 L1596.4,1181.7 L1599.5,1181.6 L1602.7,1181.6 L1605.8,1181.6 L1609.0,1181.6 L1612.2,1181.8 L1615.3,1182.0 L1618.5,1182.3"/>
<path stroke="#7E2F8E" d="M177.3,153.5 L178.5,157.1 L179.6,160.6 L180.8,164.2 L181.9,167.8 L183.0,171.4 L184.1,174.9 L185.2,178.5 L186.3,182.1 L187.3,185.7 L188.4,189.3 L189.4,192.9 L190.3,196.6 L191.3,200.2 L192.3,203.8 L193.2,207.4 L194.1,211.1 L195.1,214.7 L195.9,218.3 L196.8,222.0 L197.7,225.6 L198.5,229.3 L199.4,232.9 L200.2,236.6 L201.0,240.2 L201.8,243.9 L202.6,247.6 L203.4,251.2 L204.2,254.9 L204.9,258.6 L205.7,262.3 L206.4,265.9 L207.1,269.6 L207.9,273.3 L208.6,277.0 L209.3,280.7 L210.0,284.4 L210.6,288.1 L211.3,291.8 L212.0,295.4 L212.7,299.1 L213.3,302.8 L214.0,306.5 L214.6,310.2 L215.3,313.9 L215.9,317.6 L216.5,321.3 L217.2,325.0 L217.8,328.7 L218.4,332.4 L219.0,336.1 L219.6,339.8 L220.3,343.5 L220.9,347.2 L221.5,351.0 L222.1,354.7 L222.7,358.4 L223.3,362.1 L223.9,365.8 L224.5,369.5 L225.1,373.2 L225.7,376.9 L226.2,380.6 L226.8,384.3 L227.4,388.0 L228.0,391.7 L228.6,395.4 L229.1,399.1 L229.7,402.8 L230.3,406.5 L230.9,410.2 L231.4,413.9 L232.0,417.6 L232.6,421.3 L233.1,425.0 L233.7,428.8 L234.2,432.5 L234.8,436.2 L235.3,439.9 L235.9,443.6 L236.4,447.3 L237.0,451.0 L237.5,454.7 L238.1,458.4 L238.6,462.1 L239.1,465.8 L239.7,469.6 L240.2,473.3 L240.8,477.0 L241.3,480.7 L241.8,484.4 L242.3,488.1 L242.9,491.8 L243.4,495.5 L243.9,499.2 L244.5,503.0 L245.0,506.7 L245.5,510.4 L246.0,514.1 L246.5,517.8 L247.0,521.5 L247.6,525.2 L248.1,529.0 L248.6,532.7 L249.1,536.4 L249.6,540.1 L250.1,543.8 L250.6,547.5 L251.1,551.2 L251.6,555.0 L252.1,558.7 L252.7,562.4 L253.2,566.1 L253.7,569.8 L254.2,573.6 L254.7,577.3 L255.2,581.0 L255.7,584.7 L256.2,588.4 L256.7,592.2 L257.2,595.9 L257.7,599.6 L258.2,603.3 L258.7,607.0 L259.2,610.8 L259.7,614.5 L260.2,618.2 L260.7,621.9 L261.2,625.6 L261.7,629.4 L262.1,633.1 L262.6,636.8 L263.1,640.5 L263.6,644.2 L264.1,648.0 L264.6,651.7 L265.1,655.4 L265.6,659.1 L266.1,662.8 L266.6,666.6 L267.1,670.3 L267.6,674.0 L268.2,677.7 L268.7,681.4 L269.2,685.2 L269.7,688.9 L270.2,692.6 L270.7,696.3 L271.2,700.0 L271.7,703.7 L272.2,707.5 L272.7,711.2 L273.2,714.9 L273.7,718.6 L274.3,722.3 L274.8,726.1 L275.3,729.8 L275.8,733.5 L276.3,737.2 L276.9,740.9 L277.4,744.6 L277.9,748.3 L278.4,752.1 L279.0,755.8 L279.5,759.5 L280.0,763.2 L280.6,766.9 L281.1,770.6 L281.6,774.3 L282.2,778.1 L282.7,781.8 L283.3,785.5 L283.8,789.2 L284.3,792.9 L284.9,796.6 L285.4,800.3 L286.0,804.0 L286.6,807.7 L287.1,811.4 L287.7,815.1 L288.2,818.8 L288.8,822.5 L289.4,826.2 L290.0,830.0 L290.5,833.7 L291.1,837.4 L291.7,841.1 L292.3,844.8 L292.9,848.5 L293.5,852.2 L294.0,855.9 L294.6,859.6 L295.2,863.3 L295.8,866.9 L296.5,870.6 L297.1,874.3 L297.7,878.0 L298.3,881.7 L298.9,885.4 L299.5,889.1 L300.2,892.8 L300.8,896.5 L301.4,900.2 L302.1,903.9 L302.7,907.6 L303.4,911.2 L304.0,914.9 L304.7,918.6 L305.3,922.3 L306.0,926.0 L306.7,929.7 L307.4,933.4 L308.0,937.0 L308.7,940.7 L309.4,944.4 L310.2,948.1 L310.9,951.8 L311.6,955.5 L312.3,959.1 L313.1,962.8 L313.8,966.5 L314.6,970.2 L315.3,973.9 L316.1,977.5 L316.9,981.2 L317.6,984.9 L318.4,988.6 L319.2,992.3 L320.1,995.9 L320.9,999.6 L321.7,1003.3 L322.6,1007.0 L323.4,1010.7 L324.3,1014.4 L325.1,1018.0 L326.0,1021.7 L327.0,1025.4 L327.9,1029.0 L328.9,1032.7 L329.9,1036.3 L330.9,1039.9 L332.0,1043.5 L333.2,1047.1 L334.3,1050.7 L335.6,1054.2 L336.9,1057.7 L338.3,1061.2 L339.7,1064.6 L341.3,1068.0 L342.9,1071.4 L344.5,1074.7 L346.3,1078.0 L348.2,1081.2 L350.1,1084.4 L352.2,1087.5 L354.4,1090.5 L356.7,1093.4 L359.2,1096.1 L361.9,1098.5 L364.7,1100.7 L367.7,1102.7 L370.9,1104.3 L374.3,1105.5 L378.0,1106.4 L381.8,1107.1 L385.6,1107.6 L389.6,1108.0 L393.5,1108.3 L397.5,1108.7 L401.4,1109.2 L405.1,1109.8 L408.8,1110.6 L412.3,1111.6 L415.8,1112.6 L419.3,1113.8 L422.8,1115.0 L426.3,1116.2 L429.8,1117.5 L433.3,1118.9 L436.8,1120.2 L440.3,1121.6 L443.8,1123.1 L447.3,1124.6 L450.7,1126.1 L454.2,1127.7 L457.6,1129.3 L461.0,1131.0 L464.3,1132.8 L467.6,1134.6 L470.8,1136.5 L474.0,1138.4 L477.2,1140.3 L480.3,1142.4 L483.4,1144.4 L486.5,1146.5 L489.5,1148.6 L492.6,1150.8 L495.6,1152.9 L498.6,1155.1 L501.7,1157.3 L504.7,1159.4 L507.8,1161.6 L510.9,1163.8 L514.0,1165.9 L517.2,1168.0 L520.4,1170.0 L523.7,1172.0 L527.0,1173.8 L530.3,1175.5 L533.7,1177.0 L537.2,1178.3 L540.7,1179.3 L544.3,1180.0 L548.0,1180.5 L551.7,1180.8 L555.4,1180.9 L559.2,1180.9 L563.0,1180.7 L566.7,1180.3 L570.6,1179.9 L574.4,1179.5 L578.2,1179.0 L581.9,1178.5 L585.7,1178.1 L589.4,1177.6 L593.1,1177.2 L596.8,1176.9 L600.5,1176.5 L604.2,1176.2 L607.8,1175.9 L611.5,1175.7 L615.2,1175.5 L618.9,1175.2 L622.6,1175.1 L626.3,1174.9 L630.1,1174.7 L633.8,1174.5 L637.6,1174.2 L641.3,1173.9 L645.1,1173.5 L648.8,1173.0 L652.6,1172.5 L656.3,1172.0 L660.0,1171.5 L663.7,1171.1 L667.5,1170.8 L671.2,1170.6 L674.9,1170.5 L678.7,1170.4 L682.4,1170.5 L686.2,1170.6 L689.9,1170.8 L693.6,1171.0 L697.4,1171.2 L701.1,1171.5 L704.9,1171.9 L708.6,1172.2 L712.3,1172.6 L716.0,1173.0 L719.8,1173.4 L723.5,1173.9 L727.2,1174.4 L730.9,1174.8 L734.6,1175.4 L738.4,1175.9 L742.1,1176.4 L745.8,1177.0 L749.5,1177.5 L753.2,1178.1 L756.9,1178.7 L760.6,1179.2 L764.3,1179.8 L768.0,1180.4 L771.8,1181.0 L775.5,1181.6 L779.2,1182.2 L782.9,1182.8 L786.6,1183.3 L790.3,1183.9 L794.0,1184.5 L797.7,1185.0 L801.4,1185.6 L805.1,1186.1 L808.9,1186.6 L812.6,1187.1 L816.3,1187.6 L820.0,1188.1 L823.7,1188.5 L827.5,1188.9 L831.2,1189.3 L834.9,1189.7 L838.6,1190.0 L842.4,1190.3 L846.1,1190.6 L849.9,1190.9 L853.6,1191.1 L857.3,1191.3 L861.1,1191.5 L864.8,1191.6 L868.6,1191.8 L872.3,1191.9 L876.1,1192.0 L879.8,1192.1 L883.6,1192.2 L887.4,1192.3 L891.1,1192.4 L894.9,1192.5 L898.6,1192.7 L902.4,1192.8 L906.1,1193.0 L909.9,1193.1 L913.6,1193.3 L917.4,1193.4 L921.1,1193.6 L924.9,1193.8 L928.6,1194.0 L932.4,1194.1 L936.1,1194.3 L939.9,1194.4 L943.6,1194.6 L947.4,1194.7 L951.1,1194.9 L954.9,1195.0 L958.6,1195.1 L962.4,1195.2 L966.1,1195.2 L969.9,1195.3 L973.6,1195.3 L977.3,1195.3 L981.1,1195.2 L984.8,1195.2 L988.6,1195.1 L992.3,1195.0 L996.1,1194.9 L999.8,1194.8 L1003.6,1194.7 L1007.3,1194.5 L1011.1,1194.4 L1014.8,1194.2 L1018.6,1194.0 L1022.3,1193.8 L1026.1,1193.6 L1029.8,1193.4 L1033.6,1193.2 L1037.3,1193.0 L1041.1,1192.8 L1044.8,1192.5 L1048.5,1192.3 L1052.3,1192.1 L1056.0,1191.8 L1059.8,1191.6 L1063.5,1191.4 L1067.3,1191.2 L1071.0,1190.9 L1074.8,1190.7 L1078.5,1190.5 L1082.3,1190.3 L1086.0,1190.1 L1089.8,1189.9 L1093.5,1189.7 L1097.3,1189.5 L1101.0,1189.3 L1104.7,1189.2 L1108.5,1189.0 L1112.2,1188.8 L1116.0,1188.7 L1119.7,1188.5 L1123.5,1188.4 L1127.2,1188.3 L1131.0,1188.2 L1134.7,1188.1 L1138.5,1188.0 L1142.2,1187.9 L1146.0,1187.8 L1149.7,1187.8 L1153.5,1187.7 L1157.2,1187.7 L1161.0,1187.7 L1164.7,1187.7 L1168.5,1187.7 L1172.2,1187.8 L1176.0,1187.8 L1179.7,1187.9 L1183.5,1187.9 L1187.2,1188.0 L1191.0,1188.1 L1194.7,1188.2 L1198.5,1188.3 L1202.2,1188.4 L1206.0,1188.5 L1209.7,1188.6 L1213.5,1188.7 L1217.2,1188.9 L1221.0,1189.0 L1224.7,1189.1 L1228.5,1189.3 L1232.2,1189.4 L1236.0,1189.5 L1239.7,1189.7 L1243.5,1189.8 L1247.2,1190.0 L1251.0,1190.1 L1254.7,1190.2 L1258.5,1190.4 L1262.2,1190.5 L1266.0,1190.6 L1269.7,1190.7 L1273.5,1190.8 L1277.2,1190.9 L1281.0,1191.0 L1284.7,1191.1 L1288.5,1191.2 L1292.3,1191.3 L1296.0,1191.3 L1299.8,1191.4 L1303.5,1191.4 L1307.3,1191.4 L1311.0,1191.5 L1314.8,1191.5 L1318.5,1191.5 L1322.3,1191.5 L1326.0,1191.5 L1329.8,1191.5 L1333.5,1191.4 L1337.3,1191.4 L1341.0,1191.4 L1344.8,1191.3 L1348.5,1191.3 L1352.3,1191.2 L1356.0,1191.2 L1359.8,1191.1 L1363.5,1191.0 L1367.3,1190.9 L1371.0,1190.8 L1374.8,1190.8 L1378.5,1190.7 L1382.2,1190.6 L1386.0,1190.5 L1389.7,1190.3 L1393.5,1190.2 L1397.2,1190.1 L1401.0,1190.0 L1404.7,1189.9 L1408.5,1189.8 L1412.2,1189.6 L1416.0,1189.5 L1419.7,1189.4 L1423.5,1189.2 L1427.2,1189.1 L1431.0,1189.0 L1434.7,1188.8 L1438.5,1188.7 L1442.2,1188.5 L1446.0,1188.4 L1449.7,1188.3 L1453.5,1188.1 L1457.2,1188.0 L1461.0,1187.8 L1464.7,1187.7 L1468.5,1187.6 L1472.2,1187.4 L1476.0,1187.3 L1479.7,1187.2 L1483.5,1187.0 L1487.2,1186.9 L1491.0,1186.8 L1494.7,1186.7 L1498.5,1186.6 L1502.2,1186.4 L1506.0,1186.3 L1509.7,1186.2 L1513.5,1186.1 L1517.2,1186.0 L1521.0,1186.0 L1524.7,1185.9 L1528.5,1185.8 L1532.2,1185.7 L1536.0,1185.7 L1539.7,1185.6 L1543.5,1185.5 L1547.2,1185.5 L1551.0,1185.4 L1554.7,1185.4 L1558.5,1185.3 L1562.2,1185.3 L1566.0,1185.3 L1569.7,1185.2 L1573.5,1185.2 L1577.2,1185.2 L1581.0,1185.2 L1584.7,1185.2 L1588.5,1185.2 L1592.2,1185.2 L1596.0,1185.2 L1599.7,1185.2 L1603.5,1185.2 L1607.2,1185.2 L1611.0,1185.2 L1614.7,1185.2 L1618.5,1185.2"/>
</g>
<line x1="1316.4" y1="1171.5" x2="1191.8" y2="1000.8" stroke="#1a1a1a" stroke-width="1.6"/>
<polygon points="1174.1,977.6 1208.4,999.4 1208.2,1000.7 1191,1000.6 1187.7,1016.6 1184.2,1017.2" fill="#000"/>
<circle cx="1318.2" cy="1189.2" r="18.5" fill="#ff0000"/>
<text class="tk" x="176.5" y="1270.4" text-anchor="middle">0</text>
<text class="tk" x="536.4" y="1270.4" text-anchor="middle">5</text>
<text class="tk" x="898.1" y="1270.4" text-anchor="middle">10</text>
<text class="tk" x="1257.9" y="1270.4" text-anchor="middle">15</text>
<text class="tk" x="1618.9" y="1270.4" text-anchor="middle">20</text>
<text class="tk" x="157" y="1218.6" text-anchor="end">0</text>
<text class="tk" x="157" y="1091.0" text-anchor="end">0.5</text>
<text class="tk" x="157" y="963.0" text-anchor="end">1</text>
<text class="tk" x="157" y="833.1" text-anchor="end">1.5</text>
<text class="tk" x="157" y="705.0" text-anchor="end">2</text>
<text class="tk" x="157" y="575.1" text-anchor="end">2.5</text>
<text class="tk" x="157" y="447.1" text-anchor="end">3</text>
<text class="tk" x="157" y="317.1" text-anchor="end">3.5</text>
<text class="tk" x="157" y="189.0" text-anchor="end">4</text>
<text class="tk" x="157" y="60.6" text-anchor="end">4.5</text>
<text class="lb" x="897.7" y="1340.3" text-anchor="middle">t/s</text>
<g transform="translate(0,0)">
<text transform="translate(59.70,669.08) rotate(-90) scale(0.680,1.000)" class="mr" font-size="63" fill="#262626">|</text>
<text transform="translate(59.70,657.38) rotate(-90) scale(0.680,1.000)" class="mr" font-size="63" fill="#262626">|</text>
<text transform="translate(59.80,644.80) rotate(-90) scale(1.035,1.000)" class="mi" font-size="57" fill="#262626" stroke="#fff" stroke-width="1.0" stroke-linejoin="round">e</text>
<text transform="translate(68.60,618.60) rotate(-90) scale(1.300,1.000)" class="mi" font-size="43" fill="#262626" stroke="#fff" stroke-width="0.8" stroke-linejoin="round">i</text>
<text transform="translate(59.70,595.38) rotate(-90) scale(0.680,1.000)" class="mr" font-size="63" fill="#262626">|</text>
<text transform="translate(59.70,583.88) rotate(-90) scale(0.680,1.000)" class="mr" font-size="63" fill="#262626">|</text>
</g>
<g>
<text transform="translate(945.70,884.20) scale(1.223,1.000)" class="mi" font-size="65.5" fill="#000" stroke="#fff" stroke-width="1.3" stroke-linejoin="round">T</text>
<text transform="translate(993.70,874.90) scale(0.955,1.160)" class="mr" font-size="44" fill="#000" stroke="#fff" stroke-width="0.9" stroke-linejoin="round">*</text>
<text transform="translate(986.20,899.20) scale(1.080,1.000)" class="mr" font-size="42.5" fill="#000" stroke="#fff" stroke-width="0.7" stroke-linejoin="round">max</text>
<text transform="translate(1083.60,889.80) scale(1.377,1.000)" class="mr" font-size="61.5" fill="#3a3a3a" stroke="#fff" stroke-width="0.5" stroke-linejoin="round">=</text>
<text transform="translate(1147.00,885.00) scale(0.953,1.000)" class="mr" font-size="64.8" fill="#000" stroke="#fff" stroke-width="0.9" stroke-linejoin="round">15.83</text>
</g>
<rect x="1354.4" y="73.4" width="233.8" height="299.3" fill="#fff" stroke="#262626" stroke-width="1.8"/>
<line x1="1363.8" y1="107.3" x2="1477.6" y2="107.3" stroke="#0072BD" stroke-width="7.4"/>
<line x1="1363.8" y1="165.6" x2="1477.6" y2="165.6" stroke="#D95319" stroke-width="7.4"/>
<line x1="1363.8" y1="223.9" x2="1477.6" y2="223.9" stroke="#EDB120" stroke-width="7.4"/>
<line x1="1363.8" y1="280.4" x2="1477.6" y2="280.4" stroke="#7E2F8E" stroke-width="7.4"/>
<circle cx="1421.2" cy="339.5" r="18.7" fill="#ff0000"/>
<text transform="translate(1488.90,119.30) scale(0.750,1.000)" class="mr" font-size="52" fill="#111">|</text>
<text transform="translate(1498.40,119.30) scale(0.750,1.000)" class="mr" font-size="52" fill="#111">|</text>
<text transform="translate(1509.90,119.30) scale(1.050,1.000)" class="mi" font-size="47" fill="#000" stroke="#fff" stroke-width="0.8" stroke-linejoin="round">e</text>
<text transform="translate(1529.30,125.20) scale(1.130,1.000)" class="mr" font-size="33.3" fill="#000" stroke="#fff" stroke-width="0.6" stroke-linejoin="round">1</text>
<text transform="translate(1552.90,119.30) scale(0.750,1.000)" class="mr" font-size="52" fill="#111">|</text>
<text transform="translate(1562.40,119.30) scale(0.750,1.000)" class="mr" font-size="52" fill="#111">|</text>
<text transform="translate(1488.90,177.60) scale(0.750,1.000)" class="mr" font-size="52" fill="#111">|</text>
<text transform="translate(1498.40,177.60) scale(0.750,1.000)" class="mr" font-size="52" fill="#111">|</text>
<text transform="translate(1509.90,177.60) scale(1.050,1.000)" class="mi" font-size="47" fill="#000" stroke="#fff" stroke-width="0.8" stroke-linejoin="round">e</text>
<text transform="translate(1529.30,183.50) scale(1.130,1.000)" class="mr" font-size="33.3" fill="#000" stroke="#fff" stroke-width="0.6" stroke-linejoin="round">2</text>
<text transform="translate(1552.90,177.60) scale(0.750,1.000)" class="mr" font-size="52" fill="#111">|</text>
<text transform="translate(1562.40,177.60) scale(0.750,1.000)" class="mr" font-size="52" fill="#111">|</text>
<text transform="translate(1488.90,235.60) scale(0.750,1.000)" class="mr" font-size="52" fill="#111">|</text>
<text transform="translate(1498.40,235.60) scale(0.750,1.000)" class="mr" font-size="52" fill="#111">|</text>
<text transform="translate(1509.90,235.60) scale(1.050,1.000)" class="mi" font-size="47" fill="#000" stroke="#fff" stroke-width="0.8" stroke-linejoin="round">e</text>
<text transform="translate(1529.30,241.50) scale(1.130,1.000)" class="mr" font-size="33.3" fill="#000" stroke="#fff" stroke-width="0.6" stroke-linejoin="round">3</text>
<text transform="translate(1552.90,235.60) scale(0.750,1.000)" class="mr" font-size="52" fill="#111">|</text>
<text transform="translate(1562.40,235.60) scale(0.750,1.000)" class="mr" font-size="52" fill="#111">|</text>
<text transform="translate(1488.90,293.00) scale(0.750,1.000)" class="mr" font-size="52" fill="#111">|</text>
<text transform="translate(1498.40,293.00) scale(0.750,1.000)" class="mr" font-size="52" fill="#111">|</text>
<text transform="translate(1509.90,293.00) scale(1.050,1.000)" class="mi" font-size="47" fill="#000" stroke="#fff" stroke-width="0.8" stroke-linejoin="round">e</text>
<text transform="translate(1529.30,298.90) scale(1.130,1.000)" class="mr" font-size="33.3" fill="#000" stroke="#fff" stroke-width="0.6" stroke-linejoin="round">4</text>
<text transform="translate(1552.90,293.00) scale(0.750,1.000)" class="mr" font-size="52" fill="#111">|</text>
<text transform="translate(1562.40,293.00) scale(0.750,1.000)" class="mr" font-size="52" fill="#111">|</text>
<text transform="translate(1481.00,351.30) scale(1.287,1.000)" class="mi" font-size="47.9" fill="#000" stroke="#fff" stroke-width="1.3" stroke-linejoin="round">T</text>
<text transform="translate(1519.40,346.10) scale(0.875,1.190)" class="mr" font-size="38" fill="#000" stroke="#fff" stroke-width="0.8" stroke-linejoin="round">*</text>
<text transform="translate(1513.10,362.80) scale(1.117,1.000)" class="mr" font-size="32.5" fill="#000" stroke="#fff" stroke-width="0.5" stroke-linejoin="round">max</text>
</svg>
</body></html>
